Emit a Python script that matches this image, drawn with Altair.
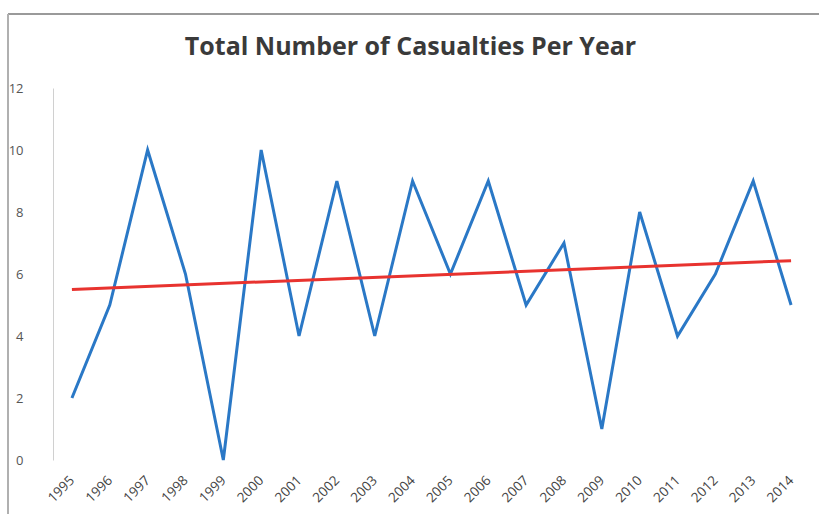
import altair as alt
import pandas as pd

years = [str(y) for y in range(1995, 2015)]
casualties = [2, 5, 10, 6, 0, 10, 4, 9, 4, 9, 6, 9, 5, 7, 1, 8, 4, 6, 9, 5]
trend_years = ["1995", "2014"]
trend_values = [5.5, 6.43]

df = pd.DataFrame({"Year": years, "Casualties": casualties})
tdf = pd.DataFrame({"Year": trend_years, "Trend": trend_values})

xscale = alt.Scale(type="point", padding=0.5, domain=years)

line = alt.Chart(df).mark_line(color="#2a78c6", strokeWidth=3).encode(
    x=alt.X("Year:O", sort=years, scale=xscale,
            axis=alt.Axis(title=None, labelAngle=-45, labelAlign="right", labelBaseline="middle",
                          labelFont="Open Sans", labelFontSize=13.5, labelColor="#444",
                          labelPadding=18, ticks=False, domain=False, grid=False)),
    y=alt.Y("Casualties:Q", scale=alt.Scale(domain=[0, 12], nice=False),
            axis=alt.Axis(title=None, values=[0, 2, 4, 6, 8, 10, 12], grid=False, ticks=False,
                          domain=True, domainColor="#d0d0d0", labelPadding=30,
                          labelFont="Open Sans", labelFontSize=13, labelColor="#555")),
)

trend = alt.Chart(tdf).mark_line(color="#e8332f", strokeWidth=3).encode(
    x=alt.X("Year:O", sort=years, scale=xscale),
    y=alt.Y("Trend:Q"),
)

frame_top = alt.Chart(df).mark_rule(color="#9a9a9a", strokeWidth=1.5).encode(
    x=alt.value(-45), x2=alt.value(770), y=alt.value(-74))
frame_left = alt.Chart(df).mark_rule(color="#b0b0b0", strokeWidth=1.5).encode(
    x=alt.value(-45), y=alt.value(-74), y2=alt.value(430))

chart = alt.layer(frame_top, frame_left, line, trend).properties(
    width=757, height=372,
    autosize=alt.AutoSizeParams(type="none"),
    padding={"left": 53, "top": 88, "right": 9, "bottom": 54},
    title=alt.TitleParams("Total Number of Casualties Per Year", font="Open Sans", fontSize=25,
                          fontWeight="bold", color="#3a3a3a", anchor="middle", dx=-21, offset=-47),
).configure(background="white").configure_view(stroke=None)

chart.save("out.html", embed_options={"renderer": "svg", "actions": False})
